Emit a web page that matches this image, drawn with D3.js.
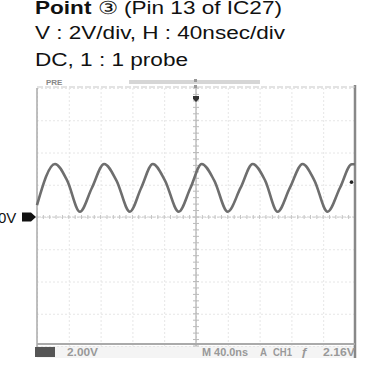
<!DOCTYPE html>
<html><head><meta charset="utf-8">
<script src="https://cdn.jsdelivr.net/npm/d3@7"></script>
<style>
html,body{margin:0;padding:0;background:#fff;}
svg{display:block;}
</style></head>
<body>
<svg id="c" width="387" height="371"></svg>
<script>
// ---- data ----
const titleLines = ["Point", "V : 2V/div, H : 40nsec/div", "DC, 1 : 1 probe"];
const titleRest = " (Pin 13 of IC27)";
const timeDivs = [0,1,2,3,4,5,6,7,8,9,10];          // horizontal divisions
const voltDivs = [-4,-3,-2,-1,0,1,2,3,4];            // vertical divisions
const nsPerDiv = 40, voltsPerDiv = 2;
// trace samples (time in ns from left edge, volts)
const timeNs = [0, 22.6, 38, 54.0, 69, 84.5, 100, 116.8, 131, 145.7, 161, 178.3, 193, 207.2, 223, 239.9, 256, 271.3, 287, 302.7, 318, 334.1, 349, 365.5, 381, 396, 400];
const volts  = [0.74, 3.29, 2.26, 0.33, 1.8, 3.29, 2.26, 0.33, 1.8, 3.29, 2.26, 0.33, 1.8, 3.29, 2.26, 0.33, 1.8, 3.29, 2.26, 0.33, 1.8, 3.29, 2.26, 0.33, 1.8, 3.27, 3.27];
const triggerLevel = 2.16;
const statusLeft = "2.00V";
const statusRight = ["M 40.0ns", "A", "CH1", "\u0192", "2.16V"];

const svg = d3.select("#c");
const x = d3.scaleLinear().domain([0, 10*nsPerDiv]).range([37, 355]);
const y = d3.scaleLinear().domain([-4*voltsPerDiv, 4*voltsPerDiv]).range([346, 88]);
const FF = "Liberation Sans, Arial, sans-serif";

// title
const t = svg.append("g").attr("font-family",FF).attr("font-size",18).attr("fill","#111");
const l1 = t.append("text").attr("x",35).attr("y",14).attr("textLength",247).attr("lengthAdjust","spacingAndGlyphs");
l1.append("tspan").attr("font-weight","bold").text(titleLines[0]);
l1.append("tspan").text(" \u2462" + titleRest);
t.append("text").attr("x",35).attr("y",39).attr("textLength",250).attr("lengthAdjust","spacingAndGlyphs").text(titleLines[1]);
t.append("text").attr("x",35).attr("y",66).attr("textLength",153).attr("lengthAdjust","spacingAndGlyphs").text(titleLines[2]);

const blur = svg.append("defs").append("filter").attr("id","b");
blur.append("feGaussianBlur").attr("stdDeviation",0.5);

const g = svg.append("g");

// faint grid via axes
const gx = g.append("g").attr("transform",`translate(0,${y.range()[1]})`)
  .call(d3.axisBottom(x).tickValues(timeDivs.map(d=>d*nsPerDiv)).tickSize(y.range()[0]-y.range()[1]).tickFormat(""));
gx.selectAll("line").attr("stroke","#e6e6e6").attr("stroke-dasharray","2,2");
gx.select(".domain").remove();
const gy = g.append("g").attr("transform",`translate(${x.range()[0]},0)`)
  .call(d3.axisRight(y).tickValues(voltDivs.map(d=>d*voltsPerDiv)).tickSize(x.range()[1]-x.range()[0]).tickFormat(""));
gy.selectAll("line").attr("stroke","#e6e6e6").attr("stroke-dasharray","2,2");
gy.select(".domain").remove();

// center axes with minor ticks
const minorT = d3.range(0, 10*nsPerDiv+0.01, nsPerDiv/5);
const minorV = d3.range(-4*voltsPerDiv, 4*voltsPerDiv+0.01, voltsPerDiv/5);
const cx = x(5*nsPerDiv), cy = y(0);
g.append("line").attr("x1",cx).attr("x2",cx).attr("y1",y.range()[1]).attr("y2",y.range()[0]).attr("stroke","#b0b0b0").attr("stroke-width",1.2);
g.append("line").attr("x1",x.range()[0]).attr("x2",x.range()[1]).attr("y1",cy).attr("y2",cy).attr("stroke","#cfcfcf").attr("stroke-width",1).attr("stroke-dasharray","4,1");
g.selectAll(".mv").data(minorV).join("line").attr("x1",cx-3).attr("x2",cx+3).attr("y1",d=>y(d)).attr("y2",d=>y(d)).attr("stroke","#bbb");
g.selectAll(".mt").data(minorT).join("line").attr("y1",cy-2).attr("y2",cy+2).attr("x1",d=>x(d)).attr("x2",d=>x(d)).attr("stroke","#c4c4c4");

// frame
g.append("line").attr("x1",x.range()[0]).attr("x2",x.range()[0]).attr("y1",y.range()[1]).attr("y2",y.range()[0]+1).attr("stroke","#aaa").attr("stroke-width",1.5);
g.append("line").attr("x1",x.range()[1]).attr("x2",x.range()[1]).attr("y1",y.range()[1]-3).attr("y2",y.range()[0]+12).attr("stroke","#888").attr("stroke-width",2.5);
g.append("line").attr("x1",x.range()[0]).attr("x2",x.range()[1]).attr("y1",y.range()[0]-2).attr("y2",y.range()[0]-2).attr("stroke","#aaa").attr("stroke-width",2);
g.append("line").attr("x1",x.range()[0]).attr("x2",x.range()[1]).attr("y1",y.range()[1]-1).attr("y2",y.range()[1]-1).attr("stroke","#c8c8c8").attr("stroke-width",1.2).attr("stroke-dasharray","6,2");
// top memory bar
g.append("rect").attr("x",129).attr("y",80).attr("width",131).attr("height",4).attr("fill","#d6d6d6");
g.append("text").attr("x",46).attr("y",85).attr("font-size",8).attr("font-family",FF).attr("font-weight","bold").attr("fill","#888").text("PRE");
// trigger position marker
g.append("rect").attr("x",cx-2).attr("y",79).attr("width",3).attr("height",3).attr("fill","#999");
g.append("rect").attr("x",cx-2).attr("y",85).attr("width",3).attr("height",3).attr("fill","#999");
g.append("path").attr("d",`M${cx-3},96 h6 v3 l-3,3 l-3,-3 z`).attr("fill","#333");

// trace
const line = d3.line().x((d,i)=>x(timeNs[i])).y(d=>y(d)).curve(d3.curveMonotoneX);
g.append("path").datum(volts).attr("d",line).attr("fill","none").attr("stroke","#6e6e6e").attr("stroke-width",2.6).attr("filter","url(#b)");

// trigger level dot
g.append("circle").attr("cx",x.range()[1]-3.5).attr("cy",y(triggerLevel)).attr("r",1.8).attr("fill","#222");

// ground marker
svg.append("text").attr("x",-2).attr("y",y(0)+6).attr("font-family",FF).attr("font-size",15).attr("fill","#111").text("0V");
svg.append("path").attr("d",`M22,${y(0)-4.5} h9 l5,4.5 l-5,4.5 h-9 z`).attr("fill","#111");

// status bar
svg.insert("rect","g").attr("x",37).attr("y",346).attr("width",318).attr("height",12).attr("fill","#f4f4f4");
const sb = svg.append("g").attr("font-family",FF).attr("font-size",10).attr("font-weight","bold").attr("fill","#999");
sb.append("rect").attr("x",35).attr("y",347).attr("width",20).attr("height",10).attr("fill","#555");
sb.append("text").attr("x",67).attr("y",356).attr("textLength",31).attr("lengthAdjust","spacingAndGlyphs").text(statusLeft);
const rx = [202, 260, 273, 301, 323];
const rw = [46, 7, 19, 7, 32];
statusRight.forEach((s,i)=>sb.append("text").attr("x",rx[i]).attr("y",356).attr("textLength",rw[i]).attr("lengthAdjust","spacingAndGlyphs").text(s));
</script>
</body></html>
